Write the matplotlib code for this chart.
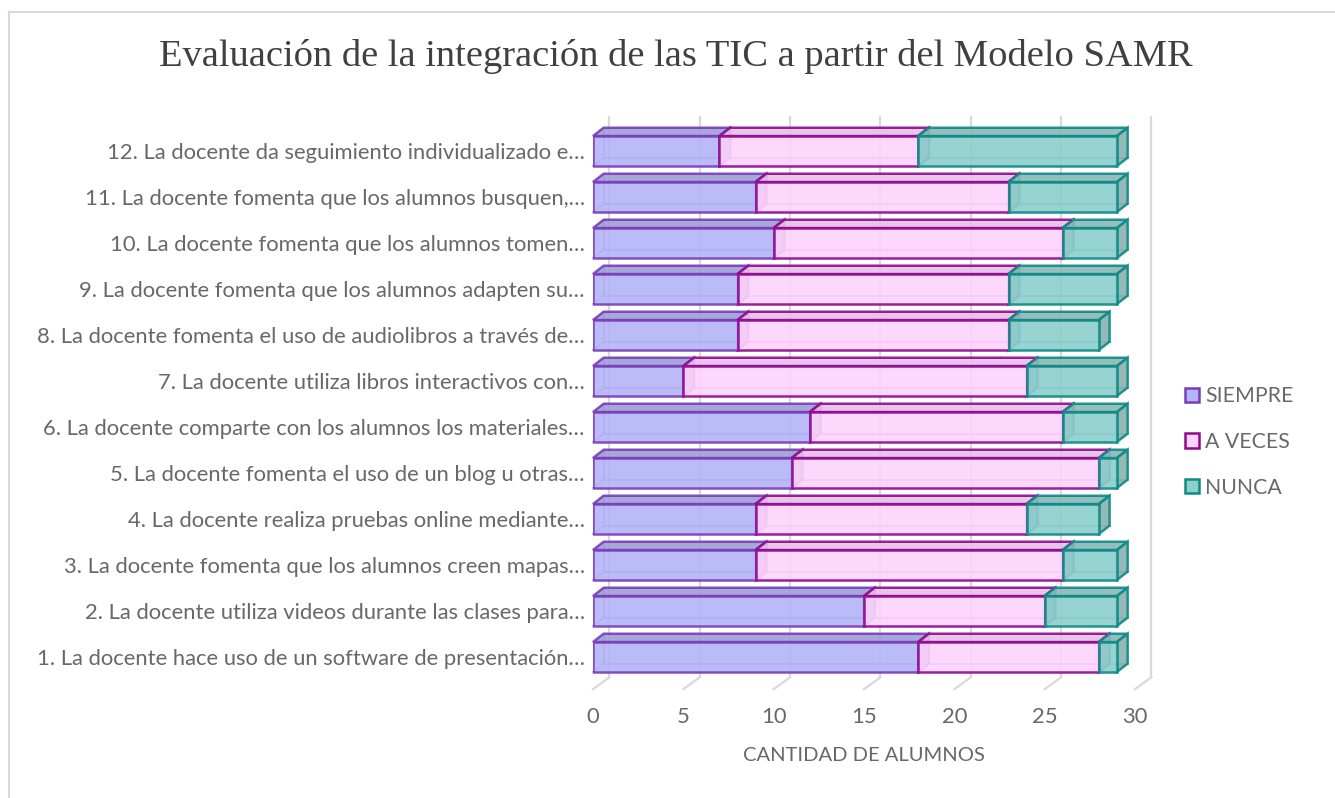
import matplotlib
matplotlib.use("Agg")
import matplotlib.pyplot as plt
from matplotlib.patches import Polygon, Patch
from matplotlib.lines import Line2D

# ---------------- data ----------------
categories = [
    "1. La docente hace uso de un software de presentación…",
    "2. La docente utiliza videos durante las clases para…",
    "3. La docente fomenta que los alumnos creen mapas…",
    "4. La docente realiza pruebas online mediante…",
    "5. La docente fomenta el uso de un blog u otras…",
    "6. La docente comparte con los alumnos los materiales…",
    "7. La docente utiliza libros interactivos con…",
    "8. La docente fomenta el uso de audiolibros a través de…",
    "9. La docente fomenta que los alumnos adapten su…",
    "10. La docente fomenta que los alumnos tomen…",
    "11. La docente fomenta que los alumnos busquen,…",
    "12. La docente da seguimiento individualizado e…",
]
siempre = [18, 15, 9, 9, 11, 12, 5, 8, 8, 10, 9, 7]
a_veces = [10, 10, 17, 15, 17, 14, 19, 15, 15, 16, 14, 11]
nunca = [1, 4, 3, 4, 1, 3, 5, 5, 6, 3, 6, 11]
series_names = ["SIEMPRE", "A VECES", "NUNCA"]
x_ticks = [0, 5, 10, 15, 20, 25, 30]
title = "Evaluación de la integración de las TIC a partir del Modelo SAMR"
x_label = "CANTIDAD DE ALUMNOS"

# ---------------- styles ----------------
front_cols = ["#B4B4F8", "#FCD4FC", "#8CCFCB"]
top_cols = ["#9E9ED6", "#E6C0E8", "#8AB8B6"]
side_cols = ["#9898CE", "#C298CA", "#88B2B0"]
edge_cols = ["#7A3DB8", "#8E0A8E", "#0E8A86"]
inner_cols = ["#8C6FD8", "#B040B0", "#2E9A96"]
W, H = 1335, 798
fig = plt.figure(figsize=(W / 100, H / 100), dpi=100)

x0_px, x1_px = 593, 1135
ylo, yhi = 0.3, 12.75
yb_px = 657 + (1 - ylo) * 46
yt_px = 151 - (yhi - 12) * 46
ax = fig.add_axes([x0_px / W, 1 - yb_px / H, (x1_px - x0_px) / W, (yb_px - yt_px) / H])
ax.set_xlim(0, 30)
ax.set_ylim(ylo, yhi)
for s in ax.spines.values():
    s.set_visible(False)
ax.patch.set_alpha(0)

label_color = "#686868"
fam = ["Lato", "DejaVu Sans"]

# 3D geometry in data units
dx = 10.7 / 18.07
dy = 8.3 / 46
bh = 0.65
dxw = 16.5 / 18.07
yfloor_back = ylo + 12 / 46

# back wall gridlines and floor ticks
for v in x_ticks:
    ax.plot([v + dxw, v + dxw], [yfloor_back, yhi], color="#D9D9D9", lw=1.6,
            zorder=1, clip_on=False)
    ax.plot([v, v + dxw], [ylo, yfloor_back], color="#D9D9D9", lw=1.6,
            zorder=1, clip_on=False)

rows = list(range(1, len(categories) + 1))
series = [siempre, a_veces, nunca]
lefts = [0] * len(rows)
z = 2
for si, vals in enumerate(series):
    ax.barh(rows, vals, left=lefts, height=bh, color=front_cols[si],
            edgecolor=edge_cols[si], linewidth=1.8, alpha=0.9, zorder=z + 3)
    for r, v, l in zip(rows, vals, lefts):
        a, b = l, l + v
        yl, yu = r - bh / 2, r + bh / 2
        # top face
        ax.add_patch(Polygon([(a, yu), (b, yu), (b + dx, yu + dy), (a + dx, yu + dy)],
                             closed=True, facecolor=top_cols[si], edgecolor=edge_cols[si],
                             lw=1.8, alpha=0.9, zorder=z + 1, clip_on=False))
        # right side face
        ax.add_patch(Polygon([(b, yl), (b + dx, yl + dy), (b + dx, yu + dy), (b, yu)],
                             closed=True, facecolor=side_cols[si], edgecolor=edge_cols[si],
                             lw=1.8, alpha=0.9, zorder=z + 2, clip_on=False))
        # hidden back edges (visible through transparency)
        ax.plot([a + dx, b + dx], [yl + dy, yl + dy], color=inner_cols[si], lw=1.2,
                alpha=0.8, zorder=z, clip_on=False)
        ax.plot([a + dx, a + dx], [yl + dy, yu + dy], color=inner_cols[si], lw=1.2,
                alpha=0.8, zorder=z, clip_on=False)
        ax.plot([a, a + dx], [yl, yl + dy], color=inner_cols[si], lw=1.2,
                alpha=0.8, zorder=z, clip_on=False)
    lefts = [l + v for l, v in zip(lefts, vals)]
    z += 4

ax.set_yticks(rows)
ax.set_yticklabels(categories, fontsize=15.8, color=label_color, family=fam)
ax.tick_params(axis="y", length=0, pad=6)
ax.set_xticks(x_ticks)
ax.set_xticklabels([str(t) for t in x_ticks], fontsize=15.8, color=label_color, family=fam)
ax.tick_params(axis="x", length=0, pad=13)
ax.set_xlabel(x_label, fontsize=14.5, color=label_color, family=fam, labelpad=14)

fig.text(676 / W, 1 - 56 / H, title, ha="center", va="center", fontsize=27.7,
         color="#404040", family=["Liberation Serif", "DejaVu Serif"])

handles = [Patch(facecolor=front_cols[i], edgecolor=edge_cols[i], linewidth=1.8)
           for i in range(3)]
leg = fig.legend(handles, series_names, loc="center left",
                 bbox_to_anchor=(1166 / W, 1 - 442 / H), frameon=False,
                 handlelength=0.65, handleheight=0.65, handletextpad=0.3,
                 labelspacing=1.2, prop={"family": fam, "size": 15.3})
for t in leg.get_texts():
    t.set_color(label_color)

# outer frame (cropped at right and bottom)
fig.add_artist(Line2D([9 / W, 9 / W], [0, 1 - 12 / H], color="#D9D9D9", lw=1.5,
                      transform=fig.transFigure))
fig.add_artist(Line2D([9 / W, 1], [1 - 12 / H, 1 - 12 / H], color="#D9D9D9", lw=1.5,
                      transform=fig.transFigure))

fig.savefig("out.png", dpi=100)
